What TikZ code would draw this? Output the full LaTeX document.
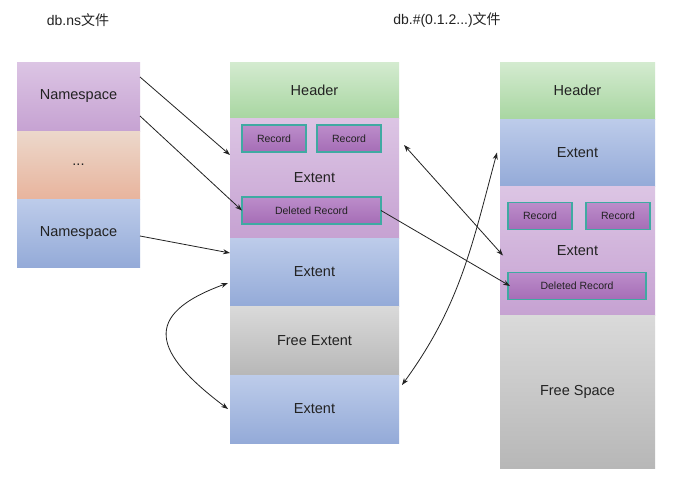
\documentclass[tikz,border=0pt]{standalone}
\usepackage{fontspec}
\setmainfont{Liberation Sans}
\newfontfamily\cjk{Noto Sans CJK SC}
\usetikzlibrary{arrows.meta,calc}
\definecolor{purpleTop}{HTML}{DCC5E4}
\definecolor{purpleBot}{HTML}{C6A2D2}
\definecolor{orangeTop}{HTML}{ECD8CB}
\definecolor{orangeBot}{HTML}{E8B49D}
\definecolor{blueTop}{HTML}{BDCCEA}
\definecolor{blueBot}{HTML}{94AAD8}
\definecolor{greenTop}{HTML}{D4EBD0}
\definecolor{greenBot}{HTML}{A8D6A1}
\definecolor{grayTop}{HTML}{DADADA}
\definecolor{grayBot}{HTML}{B7B7B7}
\definecolor{recTop}{HTML}{BC8DCA}
\definecolor{recBot}{HTML}{A56DB6}
\definecolor{recLine}{HTML}{3FAAA2}
\definecolor{ink}{HTML}{222222}
\tikzstyle{block}=[inner sep=0pt,outer sep=0pt,text=ink,font=\fontsize{14.5}{16}\selectfont]
\tikzstyle{purpleblock}=[block,top color=purpleTop,bottom color=purpleBot]
\tikzstyle{orangeblock}=[block,top color=orangeTop,bottom color=orangeBot]
\tikzstyle{blueblock}=[block,top color=blueTop,bottom color=blueBot]
\tikzstyle{greenblock}=[block,top color=greenTop,bottom color=greenBot]
\tikzstyle{grayblock}=[block,top color=grayTop,bottom color=grayBot]
\tikzstyle{record}=[draw=recLine,line width=1.6pt,top color=recTop,bottom color=recBot,inner sep=0pt,outer sep=0pt,text=ink,font=\fontsize{10.5}{12}\selectfont]
\tikzstyle{title}=[text=ink,font=\fontsize{14}{16}\selectfont]
\tikzstyle{edge} = [draw,ink,line width=0.8pt,->]
\tikzstyle{dedge} = [draw,ink,line width=0.8pt,<->]

\begin{document}
\begin{tikzpicture}[x=1pt,y=-1pt,>={Stealth[length=7pt,width=5pt]}]
\useasboundingbox[fill=white] (0,0) rectangle (674,488);

    \node[title] (tns) at (78,20) {db.ns{\cjk 文件}};
    \node[title] (tdb) at (447,20) {db.\#(0.1.2...){\cjk 文件}};

    % db.ns file
    \foreach \y/\name/\h/\sty/\txt in {96.5/ns1/69/purpleblock/Namespace, 165/nsdots/68/orangeblock/{...}, 233/ns2/68/blueblock/Namespace}
        \node[\sty,minimum width=123pt,minimum height=\h pt] (\name) at (78.5,\y) {\txt};

    % first data file
    \foreach \y/\name/\h/\sty/\txt in {90/hdrA/56/greenblock/Header, 178/extA/120/purpleblock/Extent, 272/extB/68/blueblock/Extent, 340.5/freeA/69/grayblock/Free Extent, 409/extC/68/blueblock/Extent}
        \node[\sty,minimum width=169pt,minimum height=\h pt] (\name) at (314.5,\y) {\txt};

    % second data file
    \foreach \y/\name/\h/\sty/\txt in {90.5/hdrB/57/greenblock/Header, 152.5/extD/67/blueblock/Extent, 250.5/extE/129/purpleblock/Extent, 391.5/freeB/153/grayblock/Free Space}
        \node[\sty,minimum width=155pt,minimum height=\h pt] (\name) at (577.5,\y) {\txt};

    % records
    \foreach \pos/\name/\w/\txt in {{(274,138.5)/recA1/64/Record}, {(349,138.5)/recA2/64/Record}, {(311.5,210.5)/delA/139/Deleted Record}, {(540,216)/recB1/64/Record}, {(618,216)/recB2/64/Record}, {(577,286)/delB/138/Deleted Record}}
        \node[record,minimum width=\w pt,minimum height=27pt] (\name) at \pos {\txt};

    % pointers
    \path[edge] ([yshift=19.5pt]ns1.east) -- ([yshift=23pt]extA.west);
    \path[edge] ([yshift=-19.5pt]ns1.east) -- (delA.west);
    \path[edge] ([yshift=-3pt]ns2.east) -- ([yshift=19pt]extB.west);
    \path[dedge] ([xshift=5pt,yshift=33pt]extA.east) -- ([xshift=3pt,yshift=-5pt]extE.west);
    \path[edge] (delA.east) -- ([xshift=2pt]delB.west);

    \draw[dedge] ([xshift=3pt,yshift=24pt]extC.east) to [out=54, in=255] ([xshift=-3pt]extD.west);
    \draw[dedge] ([xshift=-2pt,yshift=-11pt]extB.west) to [out=200, in=143, looseness=1.9] ([xshift=-2pt]extC.west);

\end{tikzpicture}
\end{document}
